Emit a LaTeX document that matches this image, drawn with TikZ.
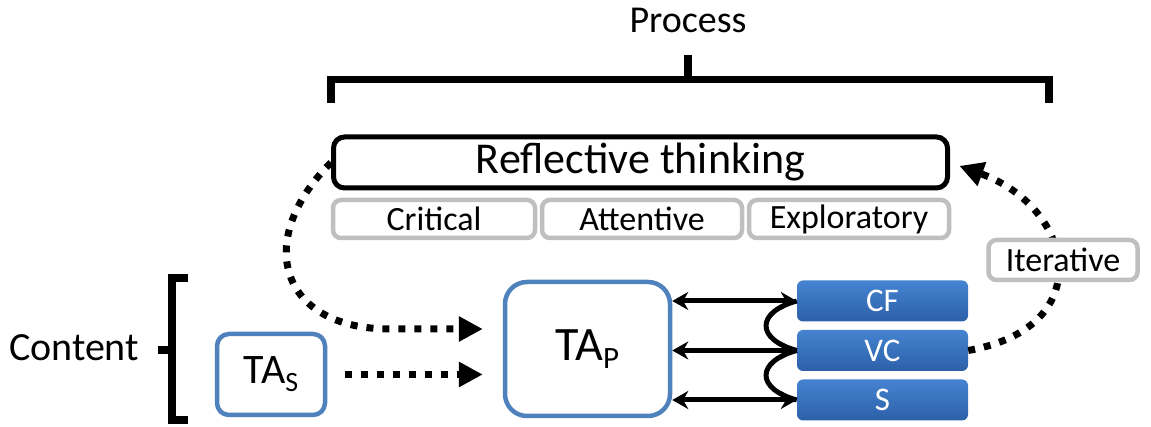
\documentclass[tikz,border=0pt]{standalone}
\usepackage{fontspec}
\setmainfont{Carlito}
\usetikzlibrary{arrows.meta}
\definecolor{taline}{HTML}{4F81BD}
\definecolor{modtop}{HTML}{4583D0}
\definecolor{modbot}{HTML}{2C60A8}
\definecolor{kindline}{HTML}{BFBFBF}
\newcommand{\tasub}[2]{\raisebox{-8pt}{\fontsize{#1}{#1}\selectfont #2}}
\tikzstyle{brace} = [line width=7.5pt]
\tikzstyle{thinkbox} = [draw, line width=5pt, rounded corners=11pt, inner sep=0pt]
\tikzstyle{kindbox} = [draw=kindline, line width=4.5pt, rounded corners=8pt, inner sep=0pt, fill=white, font=\fontsize{34}{36}\selectfont]
\tikzstyle{tabox} = [draw=taline, line width=4.5pt, inner sep=0pt]
\tikzstyle{modbox} = [rounded corners=6pt, top color=modtop, bottom color=modbot, text=white, inner sep=0pt, minimum width=171pt, minimum height=41pt, font=\fontsize{33}{35}\selectfont]
\tikzstyle{twoway} = [line width=5pt, {Stealth[length=16pt,width=18pt]}-{Stealth[length=16pt,width=18pt]}]
\tikzstyle{loop} = [line width=7pt, dash pattern=on 7pt off 9pt, -{Triangle[length=24pt,width=24pt]}]

\begin{document}
\begin{tikzpicture}[x=1pt,y=1pt]
  \useasboundingbox (0,0) rectangle (1151,427);

  % process side
  \node (process) at (688,407) {\fontsize{38}{40}\selectfont Process};
  \draw[brace] (331,324) -- (331,347.5) -- (1049,347.5) -- (1049,324);
  \draw[brace] (688,347.5) -- (688,372);
  \node[thinkbox, minimum width=614pt, minimum height=51pt] (refl) at (640.5,264.5)
    {\fontsize{44}{46}\selectfont Reflective thinking};
  \node[kindbox, minimum width=202pt, minimum height=38pt] (crit) at (434,208) {Critical};
  \node[kindbox, minimum width=200pt, minimum height=38pt] (att) at (642,208) {Attentive};
  \node[kindbox, minimum width=200pt, minimum height=38pt] (expl) at (849,208) {Exploratory};

  % content side
  \node (content) at (74,79) {\fontsize{40}{42}\selectfont Content};
  \draw[brace] (188,149) -- (172,149) -- (172,7) -- (188,7);
  \draw[brace] (172,77) -- (158,77);
  \node[tabox, rounded corners=12pt, minimum width=108pt, minimum height=81pt] (tas) at (271,52.5)
    {\fontsize{42}{44}\selectfont TA\tasub{28}{S}};
  \node[tabox, rounded corners=22pt, minimum width=165pt, minimum height=134pt] (tap) at (587.5,78)
    {\fontsize{48}{50}\selectfont TA\tasub{31}{P}};
  \node[modbox] (cf) at (882.5,126) {CF};
  \node[modbox] (vc) at (882.5,76.5) {VC};
  \node[modbox] (s) at (882.5,27) {S};

  \path[twoway]
    (cf.west -| tap.east) edge (cf.west)
    (vc.west -| tap.east) edge (vc.west)
    (s.west -| tap.east) edge (s.west);
  \path[line width=5pt]
    (cf.west) edge[out=195, in=165, looseness=2.2] (vc.west)
    (vc.west) edge[out=195, in=165, looseness=2.2] (s.west);

  % dotted links
  \coordinate (bend) at (390,98);
  \draw[loop, shorten >=20pt] (refl.west) to[out=225, in=180, looseness=1.6] (bend) -- (bend -| tap.west);
  \draw[loop, shorten <=18pt, shorten >=20pt] (tas.east) -- (tas.east -| tap.west);
  \draw[loop, shorten >=10pt] (vc.east) to[out=10, in=340, looseness=1.8] (refl.east);
  \node[kindbox, minimum width=149pt, minimum height=40pt] (iter) at (1063,167) {Iterative};
\end{tikzpicture}
\end{document}
